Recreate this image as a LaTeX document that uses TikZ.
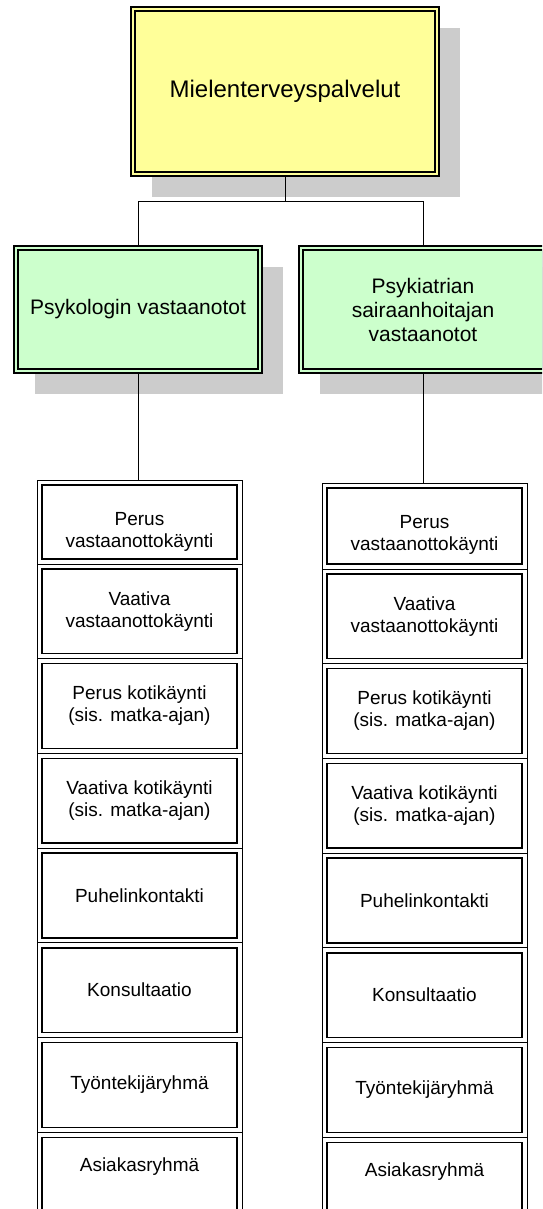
\documentclass[tikz,border=0pt]{standalone}
\usepackage{fontspec}
\setmainfont{Liberation Sans}
\usetikzlibrary{positioning,shadows}
\definecolor{headyellow}{HTML}{FFFF99}
\definecolor{unitgreen}{HTML}{CCFFCC}

\begin{document}
\begin{tikzpicture}[
      x=1pt, y=-1pt,
      every node/.style={
        outer sep=0pt
      },
      framed/.style={
        rectangle,
        draw,
        line width=1.2pt,
        inner sep=0pt,
        align=center,
        drop shadow={shadow xshift=21pt, shadow yshift=-21pt, fill=black!20, opacity=1},
        path picture={\draw[line width=1.6pt]
          ([shift={(4pt,-4pt)}]path picture bounding box.north west) rectangle
          ([shift={(-4pt,4pt)}]path picture bounding box.south east);},
      },
      head/.style={
        fill=headyellow,
        minimum width=308pt,
        minimum height=169pt,
        font=\fontsize{24}{28}\selectfont,
      },
      unit/.style={
        fill=unitgreen,
        minimum width=248pt,
        minimum height=127pt,
        font=\fontsize{21}{24}\selectfont,
      },
      listbox/.style={
        rectangle,
        draw,
        fill=white,
        line width=0.8pt,
        inner sep=0pt,
        align=center,
        minimum width=205pt,
        minimum height=94.7pt,
        font=\fontsize{19}{22}\selectfont,
        path picture={\draw[line width=1.4pt]
          ([shift={(5pt,-5pt)}]path picture bounding box.north west) rectangle
          ([shift={(-5pt,5pt)}]path picture bounding box.south east);},
      },
      listtext/.style={
        inner sep=0pt,
        align=center,
        font=\fontsize{19}{22}\selectfont,
      },
      conn/.style={
        line width=0.8pt
      },
    ]
    \useasboundingbox (0,0) rectangle (542,1209);
    \clip (0,0) rectangle (542,1209);
    \coordinate (head) at (285,91.5);
    \coordinate (psy) at (138,309.5);
    \coordinate (hoit) at (423,309.5);
    \coordinate (psy-list) at (139.5,480);
    \coordinate (hoit-list) at (424.5,483);
    \node[framed, head] (head-node) at (head) {Mielenterveyspalvelut};
    \node[framed, unit] (psy-node) at (psy) {Psykologin vastaanotot};
    \node[framed, unit] (hoit-node) at (hoit) {Psykiatrian\\sairaanhoitajan\\vastaanotot};
    % first rows are shorter, text sits low
    \node[listbox, minimum height=84pt, anchor=north,
      label={[listtext, yshift=-10pt]center:Perus\\vastaanottokäynti}] (psy-1) at (psy-list) {};
    \node[listbox, minimum height=86pt, anchor=north,
      label={[listtext, yshift=-9pt]center:Perus\\vastaanottokäynti}] (hoit-1) at (hoit-list) {};
    \foreach \txt [count=\i from 2] in {{Vaativa\\vastaanottokäynti}, {Perus kotikäynti\\(sis. matka-ajan)},
        {Vaativa kotikäynti\\(sis. matka-ajan)}, Puhelinkontakti, Konsultaatio, Työntekijäryhmä}{
      \pgfmathtruncatemacro\prev{\i-1}
      \node[listbox, below=0pt of psy-\prev] (psy-\i) {\txt};
      \node[listbox, below=0pt of hoit-\prev] (hoit-\i) {\txt};
    }
    % last rows run off the page
    \node[listbox, below=0pt of psy-7, label={[listtext, yshift=13pt]center:Asiakasryhmä}] (psy-8) {};
    \node[listbox, below=0pt of hoit-7, label={[listtext, yshift=13pt]center:Asiakasryhmä}] (hoit-8) {};
    \draw[conn] (head-node.south) -- ++(0,25) -| (psy-node.north);
    \draw[conn] (head-node.south) -- ++(0,25) -| (hoit-node.north);
    \draw[conn] (psy-node.south) -- (psy-node.south |- psy-1.north);
    \draw[conn] (hoit-node.south) -- (hoit-node.south |- hoit-1.north);
  \end{tikzpicture}
\end{document}
